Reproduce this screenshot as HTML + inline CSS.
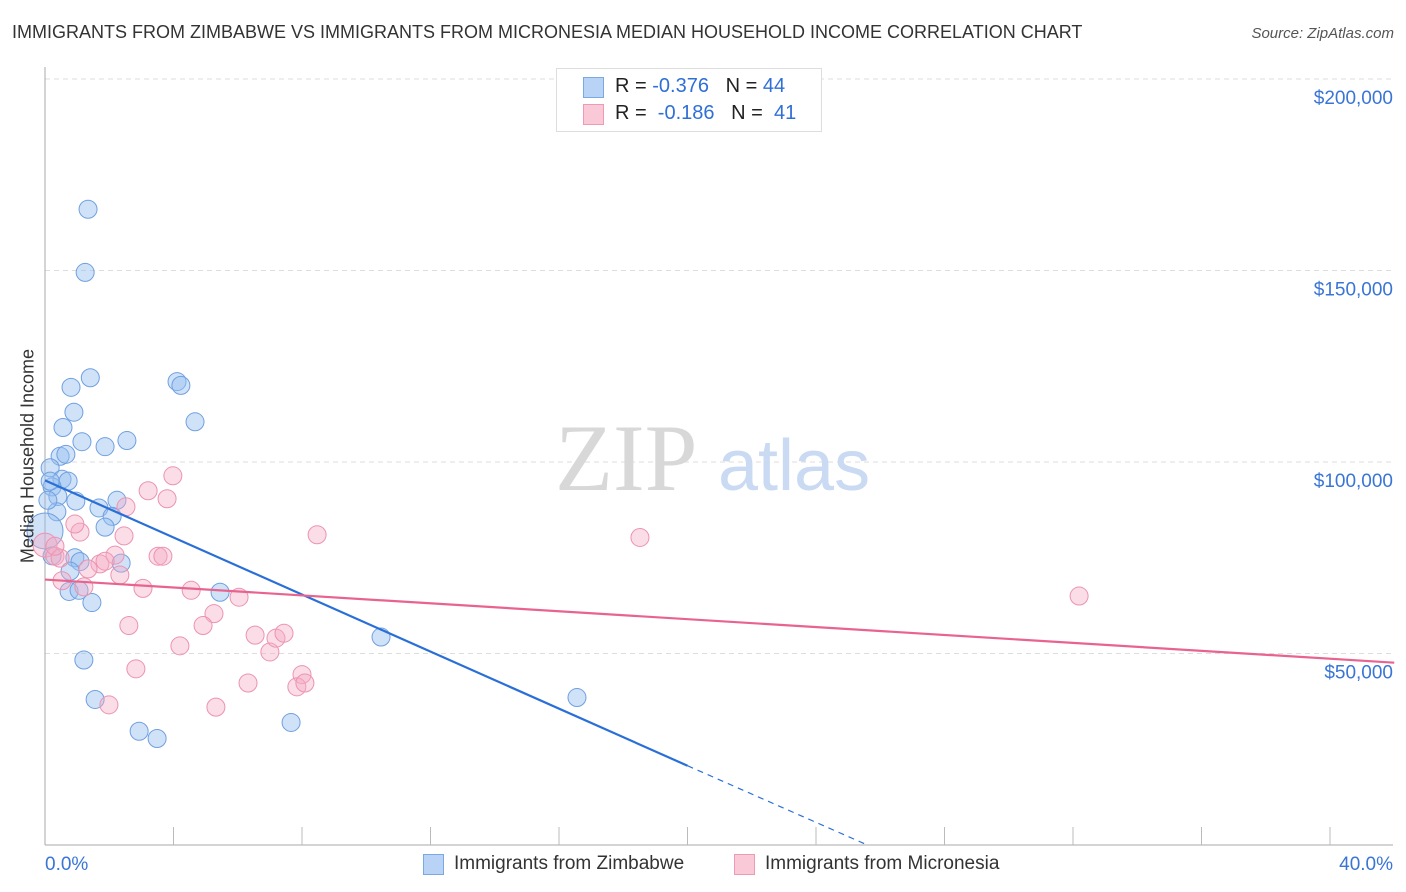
<!DOCTYPE html>
<html><head><meta charset="utf-8">
<style>
body{margin:0;background:#fff;font-family:"Liberation Sans",sans-serif;}
#wrap{position:relative;width:1406px;height:892px;overflow:hidden;}
.t{position:absolute;white-space:nowrap;}
</style></head>
<body>
<div id="wrap">
<div class="t" style="left:12px;top:22px;font-size:18px;color:#333;">IMMIGRANTS FROM ZIMBABWE VS IMMIGRANTS FROM MICRONESIA MEDIAN HOUSEHOLD INCOME CORRELATION CHART</div>
<div class="t" style="right:12px;top:25px;font-size:15px;color:#555;font-style:italic;">Source: ZipAtlas.com</div>
<svg id="svg" width="1406" height="892" style="position:absolute;left:0;top:0"></svg>
<div class="t" style="left:28px;top:456px;font-size:18px;color:#333;transform:translate(-50%,-50%) rotate(-90deg);transform-origin:center;">Median Household Income</div>
<div style="position:absolute;left:556px;top:68px;width:264px;height:62px;border:1px solid #ddd;background:#fff;">
 <div style="position:absolute;left:26px;top:8px;width:19px;height:19px;background:#b8d3f5;border:1px solid #7aa8e0;"></div>
 <div class="t" style="left:58px;top:6px;font-size:20px;color:#222;">R = <span style="color:#2f6fd6">-0.376</span>&nbsp;&nbsp;&nbsp;N = <span style="color:#2f6fd6">44</span></div>
 <div style="position:absolute;left:26px;top:35px;width:19px;height:19px;background:#f9c9d7;border:1px solid #ee9ab3;"></div>
 <div class="t" style="left:58px;top:33px;font-size:20px;color:#222;">R = &nbsp;<span style="color:#2f6fd6">-0.186</span>&nbsp;&nbsp;&nbsp;N = &nbsp;<span style="color:#2f6fd6">41</span></div>
</div>
<div style="position:absolute;left:423px;top:854px;width:19px;height:19px;background:#b8d3f5;border:1px solid #7aa8e0;"></div>
<div class="t" style="left:454px;top:853px;font-size:19px;color:#333;">Immigrants from Zimbabwe</div>
<div style="position:absolute;left:734px;top:854px;width:19px;height:19px;background:#f9c9d7;border:1px solid #ee9ab3;"></div>
<div class="t" style="left:765px;top:853px;font-size:19px;color:#333;">Immigrants from Micronesia</div>
</div>
<script>
const yTicks=[50000,100000,150000,200000];
const yTickLabels=["$50,000","$100,000","$150,000","$200,000"];
const xTickLabels=["0.0%","40.0%"];
const zimX=[1.34,1.25,1.41,0.81,4.11,4.23,0.90,4.67,0.56,1.15,2.55,1.87,0.47,0.65,0.16,0.53,0.72,0.22,0.40,0.96,2.24,1.68,2.09,0.37,1.87,0.0,0.22,0.93,1.09,2.37,0.78,0.75,1.06,1.46,5.45,1.21,10.46,1.56,16.56,2.93,3.49,7.66,0.16,0.09];
const zimY=[166000,149500,122000,119500,121000,120000,113000,110500,109000,105300,105600,104000,101500,102000,98500,95500,95000,93500,91000,89800,90000,88000,85800,87000,83000,82000,75500,75000,74000,73600,71500,66200,66500,63300,66000,48300,54300,38000,38500,29700,27800,32000,95000,90000];
const micX=[0.0,0.31,0.47,1.09,0.93,1.71,1.34,1.21,0.53,2.18,1.87,2.33,2.46,2.52,3.21,3.80,3.98,3.52,3.67,3.05,2.61,4.55,6.04,5.26,4.92,4.20,2.83,1.99,5.32,6.32,6.54,7.00,7.19,7.44,8.00,7.84,8.09,8.47,18.52,32.19,0.31];
const micY=[78300,75400,74900,81700,83800,73400,72100,67400,69000,75700,74100,70500,80700,88300,92500,90400,96400,75400,75400,67000,57300,66500,64700,60400,57300,52000,46000,36600,36000,42300,54800,50400,54000,55300,44500,41300,42300,81000,80300,65000,78000];
const zimLine=[[0,95200],[20,20700]];
const zimDash=[[20,20700],[25.6,0]];
const micLine=[[0,69300],[42,47600]];

const svg=document.getElementById('svg');
const NS='http://www.w3.org/2000/svg';
const X0=45,X1=1330,YB=845,PX50=191.5;
const xs=v=>X0+(v/40)*(X1-X0);
const ys=v=>YB-(v/50000)*PX50;
function mk(tag,attrs){const e=document.createElementNS(NS,tag);for(const k in attrs)e.setAttribute(k,attrs[k]);svg.appendChild(e);return e;}
// gridlines
yTicks.forEach((t,i)=>{
 const g=mk('line',{x1:X0,x2:1393,y1:ys(t),y2:ys(t),stroke:'#ddd','stroke-dasharray':'5,4'});
 
 
 const tx=mk('text',{x:1393,y:ys(t)+25,'text-anchor':'end','font-size':19,fill:'#3a75d6','font-family':'Liberation Sans,sans-serif'});
 tx.textContent=yTickLabels[i];
 
 
});
// axes
const ax=mk('line',{x1:X0,x2:1393,y1:YB,y2:YB,stroke:'#aaa'});


const ay=mk('line',{x1:X0,x2:X0,y1:67,y2:YB,stroke:'#aaa'});


for(let i=1;i<=10;i++){
 const tk=mk('line',{x1:xs(i*4),x2:xs(i*4),y1:YB,y2:YB-18,stroke:'#bbb'});
 
 
}
const xl0=mk('text',{x:45,y:870,'font-size':19,fill:'#3a75d6','font-family':'Liberation Sans,sans-serif'});
xl0.textContent=xTickLabels[0];


const xl1=mk('text',{x:1393,y:870,'text-anchor':'end','font-size':19,fill:'#3a75d6','font-family':'Liberation Sans,sans-serif'});
xl1.textContent=xTickLabels[1];


// watermark
const wm=mk('text',{x:555,y:490,'font-size':95,fill:'#d8d8d8','font-family':'Liberation Serif,serif'});
wm.textContent='ZIP';


const wm2=mk('text',{x:718,y:490,'font-size':72,fill:'#c9daf2','font-family':'Liberation Sans,sans-serif'});
wm2.textContent='atlas';


// points
zimX.forEach((x,i)=>{
 const c=mk('circle',{cx:xs(x),cy:ys(zimY[i]),r:(x===0?18:9),fill:'rgba(150,190,240,0.45)',stroke:'#6fa0e0','stroke-width':1});
 
 
});
micX.forEach((x,i)=>{
 const c=mk('circle',{cx:xs(x),cy:ys(micY[i]),r:(x===0?12:9),fill:'rgba(245,170,195,0.4)',stroke:'#ec93b0','stroke-width':1});
 
 
});
// trend lines
const l1=mk('line',{x1:xs(zimLine[0][0]),y1:ys(zimLine[0][1]),x2:xs(zimLine[1][0]),y2:ys(zimLine[1][1]),stroke:'#2a6fd8','stroke-width':2.2});


const l2=mk('line',{x1:xs(zimDash[0][0]),y1:ys(zimDash[0][1]),x2:xs(zimDash[1][0]),y2:ys(zimDash[1][1]),stroke:'#2a6fd8','stroke-width':1.2,'stroke-dasharray':'6,5'});


const l3=mk('line',{x1:xs(micLine[0][0]),y1:ys(micLine[0][1]),x2:xs(micLine[1][0]),y2:ys(micLine[1][1]),stroke:'#e8648f','stroke-width':2.2});


</script>
</body></html>
